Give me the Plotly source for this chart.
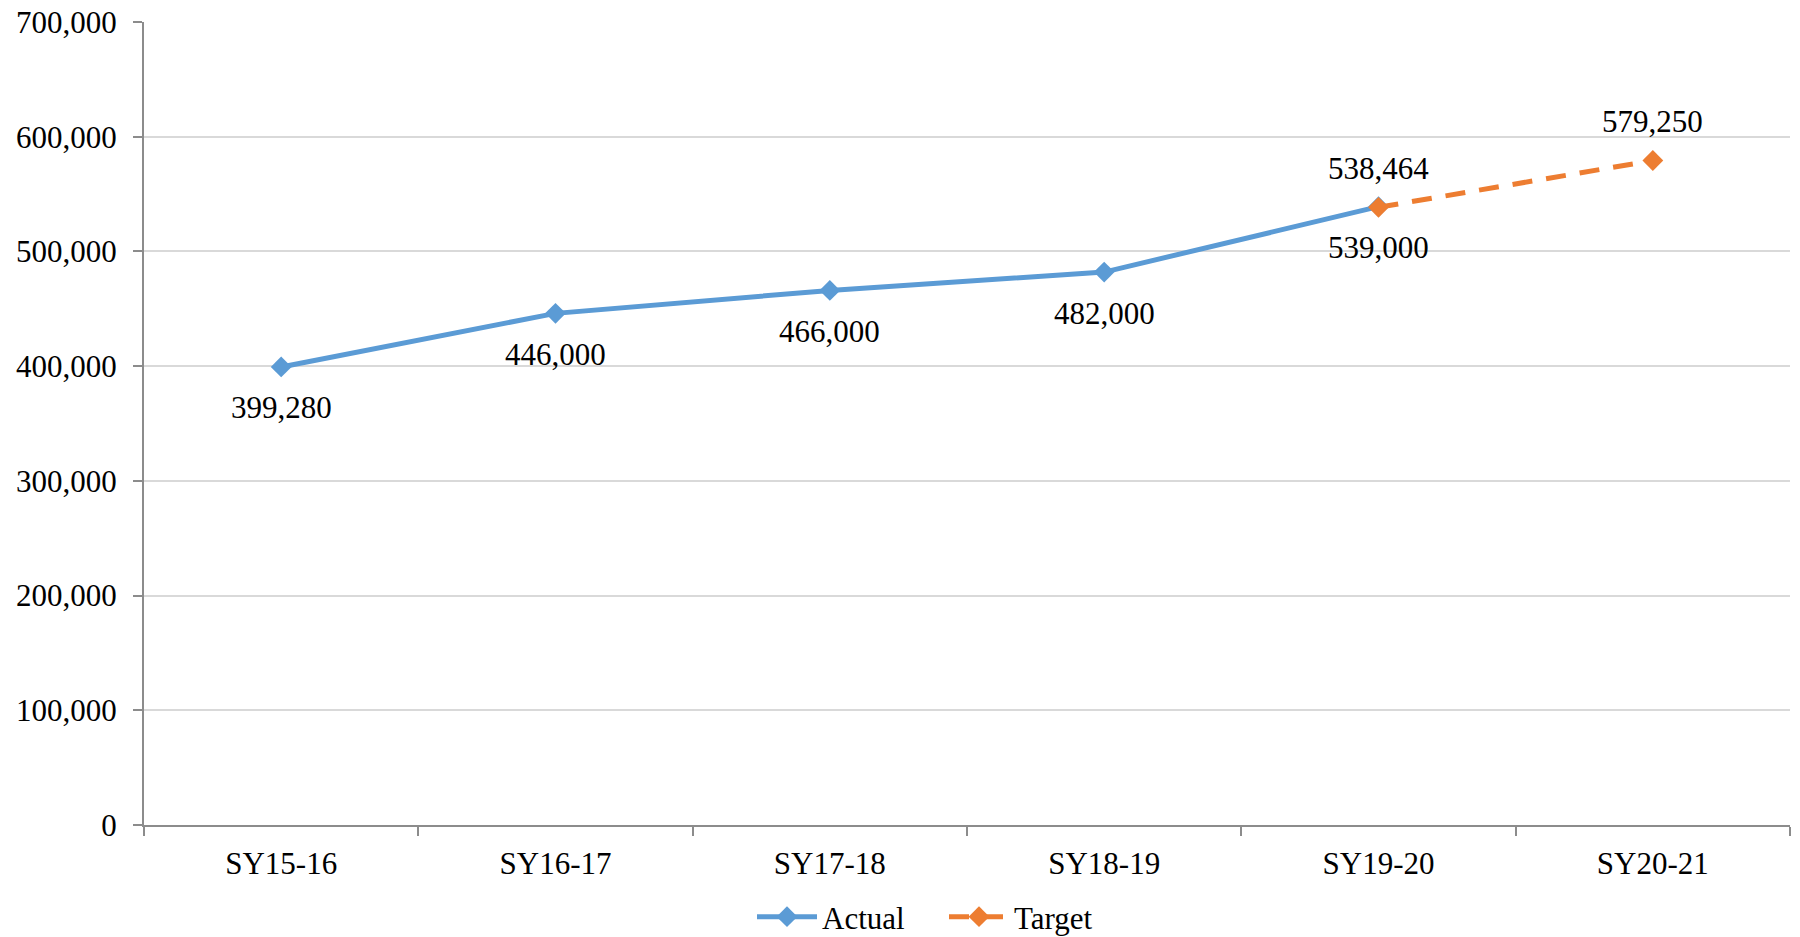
import plotly.graph_objects as go

categories = ["SY15-16", "SY16-17", "SY17-18", "SY18-19", "SY19-20", "SY20-21"]
actual = [399280, 446000, 466000, 482000, 539000, None]
target = [None, None, None, None, 538464, 579250]
y_ticks = [0, 100000, 200000, 300000, 400000, 500000, 600000, 700000]

FONT = "Liberation Serif, Times New Roman, serif"
BLUE = "#5B9BD5"
ORANGE = "#ED7D31"

# page body has an 8px default margin; figure is sized to compensate
W, H = 1792, 929

def fmt(v):
    return f"{v:,}"

fig = go.Figure()
fig.add_trace(go.Scatter(
    x=categories, y=actual, name="Actual", mode="lines+markers",
    line=dict(color=BLUE, width=5),
    marker=dict(symbol="diamond", size=16, color=BLUE),
    cliponaxis=False,
))
fig.add_trace(go.Scatter(
    x=categories, y=target, name="Target", mode="lines+markers",
    line=dict(color=ORANGE, width=5, dash="20px,14px"),
    marker=dict(symbol="diamond", size=16, color=ORANGE),
    cliponaxis=False,
))

annotations = []
for c, v in zip(categories, actual):
    if v is not None:
        annotations.append(dict(x=c, y=v, xref="x", yref="y", text=fmt(v),
                                showarrow=False, yshift=-41, yanchor="middle",
                                font=dict(family=FONT, size=31, color="black")))
for c, v in zip(categories, target):
    if v is not None:
        annotations.append(dict(x=c, y=v, xref="x", yref="y", text=fmt(v),
                                showarrow=False, yshift=39, yanchor="middle",
                                font=dict(family=FONT, size=31, color="black")))

fig.update_layout(
    width=W, height=H,
    margin=dict(l=136, r=10, t=14, b=112, autoexpand=False),
    plot_bgcolor="white", paper_bgcolor="white",
    font=dict(family=FONT, size=31, color="black"),
    showlegend=True,
    annotations=annotations,
    legend=dict(orientation="h", xref="container", yref="container",
                x=936 / W, y=1 - 909 / H, xanchor="center", yanchor="middle",
                font=dict(family=FONT, size=31, color="black"),
                itemwidth=60, entrywidth=117, bgcolor="rgba(0,0,0,0)"),
    xaxis=dict(
        type="category", categoryorder="array", categoryarray=categories,
        range=[-0.5, len(categories) - 0.5],
        showline=True, linecolor="#8C8C8C", linewidth=2,
        ticks="outside", tickson="boundaries", ticklen=9, tickcolor="#8C8C8C", tickwidth=2,
        showgrid=False, zeroline=False, automargin=False,
        ticklabelstandoff=10, ticklabeloverflow="allow",
        tickfont=dict(family=FONT, size=31, color="black"),
    ),
    yaxis=dict(
        range=[0, 700000], tickvals=y_ticks, tickformat=",d",
        showline=True, linecolor="#8C8C8C", linewidth=2,
        ticks="outside", ticklen=9, tickcolor="#8C8C8C", tickwidth=2,
        showgrid=True, gridcolor="#D9D9D9", gridwidth=2,
        zeroline=False, automargin=False,
        ticklabelstandoff=10, ticklabeloverflow="allow",
        tickfont=dict(family=FONT, size=31, color="black"),
    ),
)

fig.write_html("out.html")
